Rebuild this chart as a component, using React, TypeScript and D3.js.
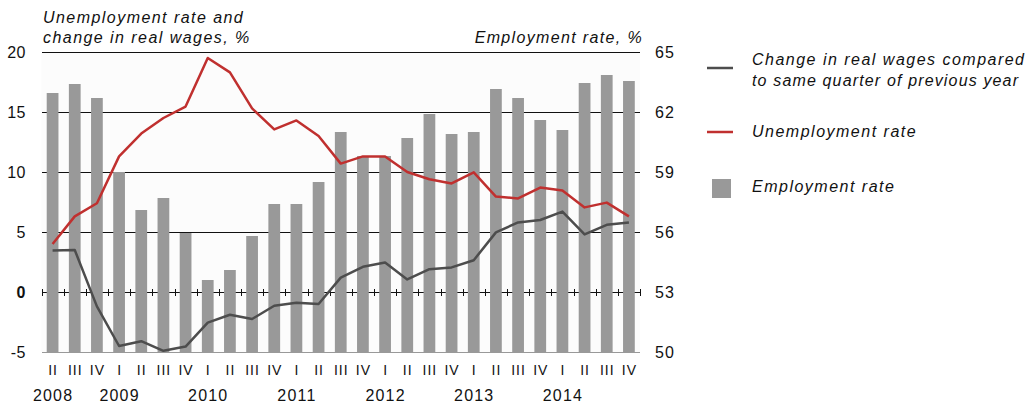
import React, { useEffect, useRef } from "react";
import * as d3 from "d3";

// quarters 2008 II .. 2014 IV
const quarters = [
  "II", "III", "IV",
  "I", "II", "III", "IV",
  "I", "II", "III", "IV",
  "I", "II", "III", "IV",
  "I", "II", "III", "IV",
  "I", "II", "III", "IV",
  "I", "II", "III", "IV",
];
const years = ["2008", "2009", "2010", "2011", "2012", "2013", "2014"];
// index of the quarter each year label sits under
const yearAt = [0, 3, 7, 11, 15, 19, 23];

const employment = [
  62.95, 63.4, 62.7, 59.0, 57.1, 57.7, 55.95, 53.6, 54.1, 55.8, 57.4, 57.4, 58.5, 61.0,
  59.8, 59.8, 60.7, 61.9, 60.9, 61.0, 63.15, 62.7, 61.6, 61.1, 63.45, 63.85, 63.55,
];
const unemployment = [
  4.0, 6.3, 7.4, 11.3, 13.2, 14.5, 15.45, 19.5, 18.3, 15.3, 13.55, 14.3, 13.0, 10.7,
  11.3, 11.3, 10.0, 9.4, 9.05, 9.97, 7.95, 7.8, 8.7, 8.45, 7.05, 7.45, 6.3,
];
const wages = [
  3.45, 3.5, -1.2, -4.5, -4.1, -4.9, -4.55, -2.55, -1.9, -2.25, -1.15, -0.9, -1.0, 1.2,
  2.1, 2.45, 1.05, 1.9, 2.05, 2.65, 4.97, 5.8, 6.0, 6.7, 4.8, 5.6, 5.8,
];
const leftTicks = [-5, 0, 5, 10, 15, 20];
const rightTicks = [50, 53, 56, 59, 62, 65];

const FONT = "'Liberation Sans', Arial, sans-serif";
const RED = "#c0302f";
const DARK = "#4d4d4d";
const BAR = "#999999";

export default function App() {
  const ref = useRef<SVGSVGElement>(null);

  useEffect(() => {
    const svg = d3.select(ref.current);
    svg.selectAll("*").remove();

    const left = 41.5, right = 640, top = 52, bottom = 352;
    const idx = quarters.map((_, i) => i);
    const x = d3.scaleBand<number>().domain(idx).range([left, right]).paddingInner(0.47).paddingOuter(0.235);
    const step = x.step();
    const cx = (i: number) => (x(i) as number) + x.bandwidth() / 2;
    const yL = d3.scaleLinear().domain([-5, 20]).range([bottom, top]);
    const yR = d3.scaleLinear().domain([50, 65]).range([bottom, top]);

    const g = svg.append("g");

    // plot background
    g.append("rect").attr("x", left).attr("y", top).attr("width", right - left)
      .attr("height", bottom - top).attr("fill", "#fcfcfc");

    // gridlines
    g.selectAll("line.grid").data(leftTicks).join("line")
      .attr("x1", left).attr("x2", right)
      .attr("y1", d => yL(d) + 0.5).attr("y2", d => yL(d) + 0.5)
      .attr("stroke", d => d === -5 ? "#999" : "#111").attr("stroke-width", 1)
      .attr("shape-rendering", "crispEdges");

    // "+" ticks on the zero line, at the band boundaries
    const bounds = d3.range(quarters.length + 1).map(i => left + i * step);
    g.selectAll("line.tick0").data(bounds).join("line")
      .attr("x1", d => Math.round(d) + 0.5).attr("x2", d => Math.round(d) + 0.5)
      .attr("y1", yL(0) - 3).attr("y2", yL(0) + 4)
      .attr("stroke", "#111").attr("stroke-width", 1)
      .attr("shape-rendering", "crispEdges");

    // bars
    g.selectAll("rect.bar").data(employment).join("rect")
      .attr("x", (_, i) => x(i) as number)
      .attr("width", x.bandwidth())
      .attr("y", d => yR(d))
      .attr("height", d => bottom - yR(d))
      .attr("fill", BAR);

    const line = (vals: number[]) => d3.line<number>().x((_, i) => cx(i)).y(d => yL(d))(vals);
    g.append("path").attr("d", line(wages)).attr("fill", "none")
      .attr("stroke", DARK).attr("stroke-width", 2.5).attr("stroke-linejoin", "round");
    g.append("path").attr("d", line(unemployment)).attr("fill", "none")
      .attr("stroke", RED).attr("stroke-width", 2.5).attr("stroke-linejoin", "round");

    // left axis labels
    g.selectAll("text.yl").data(leftTicks).join("text")
      .attr("x", 26).attr("y", d => yL(d) + 6)
      .attr("text-anchor", "end")
      .attr("font-family", FONT).attr("font-size", 16).attr("letter-spacing", 0.5)
      .attr("font-weight", d => d === 0 ? "bold" : "normal")
      .attr("fill", "#111").text(d => d);

    // right axis labels
    g.selectAll("text.yr").data(rightTicks).join("text")
      .attr("x", 655).attr("y", d => yR(d) + 6)
      .attr("font-family", FONT).attr("font-size", 16).attr("letter-spacing", 1)
      .attr("fill", "#111").text(d => d);

    // quarter labels
    g.selectAll("text.q").data(quarters).join("text")
      .attr("x", (_, i) => cx(i) + 0.5).attr("y", 375)
      .attr("text-anchor", "middle")
      .attr("font-family", FONT).attr("font-size", 14).attr("letter-spacing", 1)
      .attr("fill", "#111").text(d => d);

    // year labels
    g.selectAll("text.yr2").data(years).join("text")
      .attr("x", (_, i) => cx(yearAt[i]) + 0.5).attr("y", 401)
      .attr("text-anchor", "middle")
      .attr("font-family", FONT).attr("font-size", 16).attr("letter-spacing", 1.2)
      .attr("fill", "#111").text(d => d);

    // axis titles
    const title = g.append("text").attr("font-family", FONT).attr("font-size", 16)
      .attr("font-style", "italic").attr("letter-spacing", 1.45).attr("fill", "#111");
    title.append("tspan").attr("x", 43).attr("y", 23).text("Unemployment rate and");
    title.append("tspan").attr("x", 43).attr("y", 43).text("change in real wages, %");
    g.append("text").attr("x", 643).attr("y", 43).attr("text-anchor", "end")
      .attr("font-family", FONT).attr("font-size", 16).attr("font-style", "italic")
      .attr("letter-spacing", 1.35).attr("fill", "#111").text("Employment rate, %");

    // legend
    const lg = g.append("g").attr("font-family", FONT).attr("font-size", 16)
      .attr("font-style", "italic").attr("fill", "#111");
    lg.append("line").attr("x1", 707).attr("x2", 733).attr("y1", 68).attr("y2", 68)
      .attr("stroke", DARK).attr("stroke-width", 2.5);
    lg.append("text").attr("x", 752).attr("y", 65)
      .attr("textLength", 272).attr("lengthAdjust", "spacing")
      .text("Change in real wages compared");
    lg.append("text").attr("x", 752).attr("y", 86)
      .attr("textLength", 266).attr("lengthAdjust", "spacing")
      .text("to same quarter of previous year");
    lg.append("line").attr("x1", 707).attr("x2", 733).attr("y1", 132).attr("y2", 132)
      .attr("stroke", RED).attr("stroke-width", 2.5);
    lg.append("text").attr("x", 752).attr("y", 137).attr("letter-spacing", 1.5)
      .text("Unemployment rate");
    lg.append("rect").attr("x", 712).attr("y", 179).attr("width", 19).attr("height", 19)
      .attr("fill", BAR);
    lg.append("text").attr("x", 752).attr("y", 192).attr("letter-spacing", 1.5)
      .text("Employment rate");
  }, []);

  return (
    <svg ref={ref} width={1032} height={407}
      style={{ position: "absolute", left: 0, top: 0, background: "#fff" }} />
  );
}
